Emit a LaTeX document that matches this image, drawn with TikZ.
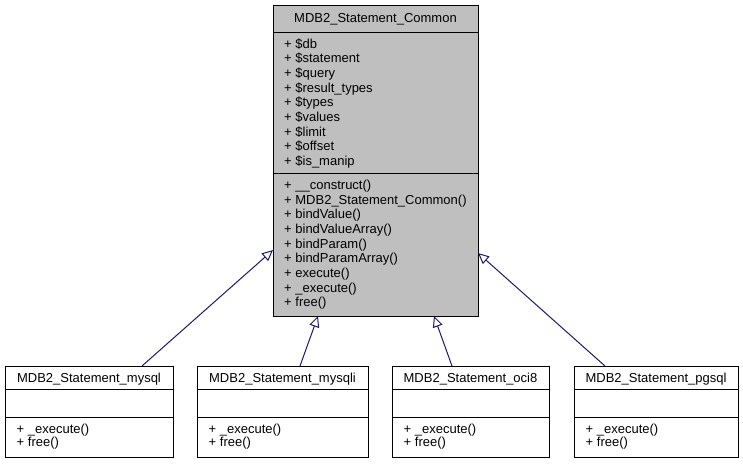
\documentclass[tikz,border=0pt]{standalone}
\usepackage{fontspec}
\setmainfont{Liberation Sans}
\usetikzlibrary{arrows.meta}
\definecolor{edgeblue}{HTML}{191970}
\definecolor{boxgray}{HTML}{BFBFBF}
\begin{document}
\begin{tikzpicture}[x=1pt,y=-1pt,
  box/.style={draw=black, line width=1pt, inner sep=0pt, outer sep=0pt, anchor=north west},
  sep/.style={draw=black, line width=1pt},
  txt/.style={anchor=base west, inner sep=0pt, font=\fontsize{13}{14.67}\selectfont},
  ttl/.style={anchor=base, inner sep=0pt, font=\fontsize{13}{14.67}\selectfont},
  inherit/.style={draw=edgeblue, line width=1pt, -{Triangle[open, length=11pt, width=10pt]}}]
\useasboundingbox (0,0) rectangle (743,463);
% main class
\node[box, fill=boxgray, minimum width=205pt, minimum height=311pt] (common) at (273,5) {};
\draw[sep] (common.west |- 0,32) -- (common.east |- 0,32);
\draw[sep] (common.west |- 0,173) -- (common.east |- 0,173);
\node[ttl] (commonT) at (375.5,22.5) {MDB2\_Statement\_Common};
\foreach \t [count=\i from 0] in {\$db,\$statement,\$query,\$result\_types,\$types,\$values,\$limit,\$offset,\$is\_manip}
  \node[txt] (attr\i) at (284,48+14.67*\i) {+ \t};
\foreach \t [count=\i from 0] in {\_\_construct(),MDB2\_Statement\_Common(),bindValue(),bindValueArray(),bindParam(),bindParamArray(),execute(),\_execute(),free()}
  \node[txt] (meth\i) at (284,189.5+14.67*\i) {+ \t};
% subclasses
\foreach \n/\x/\w/\lbl in {mysql/5/168/mysql, mysqli/197/171/mysqli, oci/392/157/oci8, pgsql/574/164/pgsql}{
  \node[box, minimum width=\w pt, minimum height=91pt] (\n) at (\x,366) {};
  \draw[sep] (\n.west |- 0,389) -- (\n.east |- 0,389);
  \draw[sep] (\n.west |- 0,417) -- (\n.east |- 0,417);
  \node[ttl] (\n T) at (\n.north |- 0,382) {MDB2\_Statement\_\lbl};
  \node[txt] (\n M1) at ([xshift=11.5pt]\n.west |- 0,433.5) {+ \_execute()};
  \node[txt] (\n M2) at ([xshift=11.5pt]\n.west |- 0,446.5) {+ free()};
}
% inheritance edges
\draw[inherit] (mysql.north -| 142,0) -- (common.west |- 0,250);
\draw[inherit] (mysqli.north -| 300,0) -- (common.south -| 318,0);
\draw[inherit] (oci.north -| 452,0) -- (common.south -| 434,0);
\draw[inherit] (pgsql.north -| 605,0) -- (common.east |- 0,253);
\end{tikzpicture}
\end{document}
